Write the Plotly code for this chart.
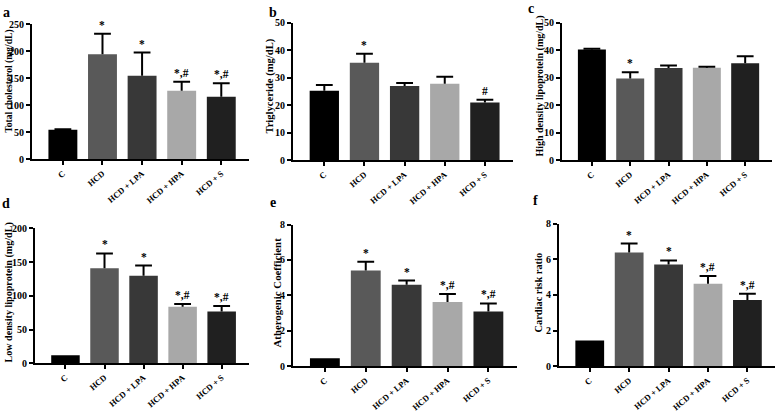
import plotly.graph_objects as go

categories = ["C", "HCD", "HCD + LPA", "HCD + HPA", "HCD + S"]
bar_colors = ["#000000", "#595959", "#383838", "#a8a8a8", "#202020"]

tc_vals = [55, 195, 155, 127, 116]
tc_err = [1, 38, 43, 17, 25]
tc_sig = ["", "*", "*", "*,#", "*,#"]

tg_vals = [25.3, 35.4, 27.0, 27.8, 21.0]
tg_err = [2.0, 3.3, 1.1, 2.5, 1.0]
tg_sig = ["", "*", "", "", "#"]

hdl_vals = [40.2, 29.7, 33.5, 33.6, 35.2]
hdl_err = [0.3, 2.3, 0.9, 0.4, 2.6]
hdl_sig = ["", "*", "", "", ""]

ldl_vals = [12, 141, 130, 84, 77]
ldl_err = [0, 22, 15, 4, 8]
ldl_sig = ["", "*", "*", "*,#", "*,#"]

ac_vals = [0.45, 5.4, 4.6, 3.63, 3.1]
ac_err = [0.0, 0.5, 0.24, 0.45, 0.45]
ac_sig = ["", "*", "*", "*,#", "*,#"]

crr_vals = [1.45, 6.38, 5.7, 4.62, 3.72]
crr_err = [0.0, 0.5, 0.23, 0.44, 0.35]
crr_sig = ["", "*", "*", "*,#", "*,#"]

W, H = 784, 417
FONT = "Liberation Serif"

panels = [
    # values, errors, sig, ytitle, title size, ymax, dtick, xpx, ypx(top, zero), letter, letterpos, titlepos
    (tc_vals, tc_err, tc_sig, "Total cholesterol (mg/dL)", 9.6, 250, 50, (32, 249), (19, 158), "a", (6, 7), (9, 78)),
    (tg_vals, tg_err, tg_sig, "Triglyceride (mg/dL)", 10.6, 50, 10, (293, 513), (17, 159), "b", (273, 7), (270, 83)),
    (hdl_vals, hdl_err, hdl_sig, "High density lipoprotein (mg/dL)", 10.0, 50, 10, (562, 772), (17, 159), "c", (531, 3), (540, 83)),
    (ldl_vals, ldl_err, ldl_sig, "Low density lipoprotein (mg/dL)", 10.1, 200, 50, (35, 249), (229, 368), "d", (6, 203), (9, 295)),
    (ac_vals, ac_err, ac_sig, "Atherogenic Coefficient", 10.8, 8, 2, (293, 517), (225, 371), "e", (273, 202), (277, 295)),
    (crr_vals, crr_err, crr_sig, "Cardiac risk ratio", 10.4, 8, 2, (559, 775), (224, 371), "f", (535, 200), (539, 295)),
]

fig = go.Figure()
layout = {}
annotations = []

for i, (vals, errs, sig, ytitle, tsize, ymax, dtick, xpx, ypx, letter, lpos, tpos) in enumerate(panels):
    n = i + 1
    xa = "x" if n == 1 else f"x{n}"
    ya = "y" if n == 1 else f"y{n}"
    fig.add_trace(go.Bar(
        x=categories, y=vals, marker=dict(color=bar_colors, line=dict(width=0)),
        xaxis=xa, yaxis=ya, showlegend=False, width=0.73,
    ))
    # error stems (upper only)
    sx, sy = [], []
    for c, v, e in zip(categories, vals, errs):
        if e > 0:
            sx += [c, c, None]
            sy += [v, v + e, None]
    fig.add_trace(go.Scatter(x=sx, y=sy, mode="lines", line=dict(color="black", width=2),
                             xaxis=xa, yaxis=ya, showlegend=False, hoverinfo="skip"))
    cx = [c for c, e in zip(categories, errs) if e > 0]
    cy = [v + e for v, e in zip(vals, errs) if e > 0]
    fig.add_trace(go.Scatter(x=cx, y=cy, mode="markers",
                             marker=dict(symbol="line-ew", size=12, color="black",
                                         line=dict(color="black", width=2)),
                             xaxis=xa, yaxis=ya, showlegend=False, hoverinfo="skip"))
    # significance marks
    for c, v, e, s in zip(categories, vals, errs, sig):
        if s:
            annotations.append(dict(
                text=s, x=c, y=v + e, xref=xa, yref=ya, xanchor="center", yanchor="bottom",
                showarrow=False, yshift=1,
                font=dict(family=FONT, size=11.5, color="#000000", weight="bold"),
            ))

    xkey = "xaxis" if n == 1 else f"xaxis{n}"
    ykey = "yaxis" if n == 1 else f"yaxis{n}"
    layout[xkey] = dict(
        domain=[xpx[0] / W, xpx[1] / W], anchor=ya, type="category",
        range=[-0.78, 4.7], showgrid=False, zeroline=False,
        showline=True, linecolor="black", linewidth=2,
        ticks="outside", ticklen=4, tickwidth=1.5, tickcolor="black",
        tickangle=-40, tickfont=dict(family=FONT, size=8.5, color="black", weight="bold"),
    )
    layout[ykey] = dict(
        domain=[1 - ypx[1] / H, 1 - ypx[0] / H], anchor=xa,
        range=[0, ymax], dtick=dtick, tick0=0, showgrid=False, zeroline=False,
        showline=True, linecolor="black", linewidth=2,
        ticks="outside", ticklen=4, tickwidth=1.5, tickcolor="black",
        tickfont=dict(family=FONT, size=10, color="black", weight="bold"),
    )
    annotations.append(dict(
        text=ytitle, textangle=-90, x=tpos[0] / W, y=1 - tpos[1] / H,
        xref="paper", yref="paper", xanchor="center", yanchor="middle", showarrow=False,
        font=dict(family=FONT, size=tsize, color="black", weight="bold"),
    ))
    annotations.append(dict(
        text=letter, x=lpos[0] / W, y=1 - lpos[1] / H,
        xref="paper", yref="paper", xanchor="center", yanchor="middle", showarrow=False,
        font=dict(family=FONT, size=14, color="black", weight="bold"),
    ))

fig.update_layout(
    width=W, height=H, margin=dict(l=0, r=0, t=0, b=0),
    paper_bgcolor="white", plot_bgcolor="white",
    annotations=annotations, bargap=0.27, **layout,
)

fig.write_html(
    "out.html",
    config={"displayModeBar": False},
    post_script="document.body.style.margin='0';document.body.style.overflow='hidden';",
)
